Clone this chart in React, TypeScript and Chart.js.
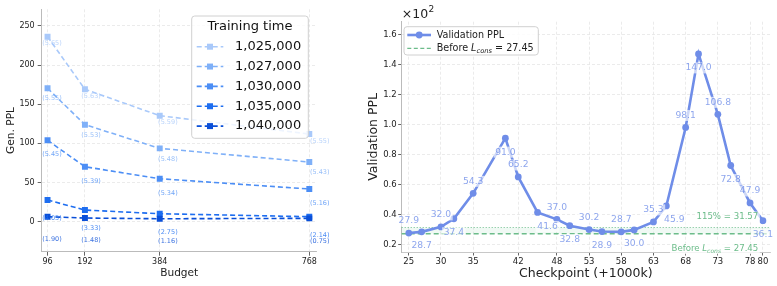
import { useEffect, useRef } from 'react';
import { Chart, registerables } from 'chart.js';

Chart.register(...registerables);

const FONT = "'DejaVu Sans', sans-serif";

// Generation perplexity against budget, one series per training time
const budgets = [96, 192, 384, 768];
const trainingTimes = ['1,025,000', '1,027,000', '1,030,000', '1,035,000', '1,040,000'];
const genPpl1025 = [236.3, 169.1, 135.4, 112.0];
const genPpl1027 = [170.4, 123.9, 93.7, 76.2];
const genPpl1030 = [104.0, 70.2, 54.9, 41.8];
const genPpl1035 = [27.7, 14.9, 10.2, 6.4];
const genPpl1040 = [6.4, 4.7, 3.8, 4.3];
// bracketed values printed under each point
const note1025 = [5.65, 5.63, 5.59, 5.55];
const note1027 = [5.55, 5.53, 5.48, 5.43];
const note1030 = [5.45, 5.39, 5.34, 5.16];
const note1035 = [4.05, 3.33, 2.75, 2.14];
const note1040 = [1.9, 1.48, 1.16, 0.75];
const genPplTicks = [0, 50, 100, 150, 200, 250];

// Validation perplexity over training checkpoints
const checkpoints = [25, 27, 30, 32, 35, 40, 42, 45, 48, 50, 53, 55, 58, 60, 63, 65, 68, 70, 73, 75, 78, 80];
const validationPpl = [
  27.9, 28.7, 32.0, 37.4, 54.3, 91.0, 65.2, 41.6, 37.0, 32.8, 30.2,
  28.9, 28.7, 30.0, 35.3, 45.9, 98.1, 147.0, 106.8, 72.8, 47.9, 36.1,
];
const checkpointTicks = [25, 30, 35, 42, 48, 53, 58, 63, 68, 73, 78, 80];
const validationTicks = [20, 40, 60, 80, 100, 120, 140, 160];
const beforeLcons = 27.45;
const thresholdPercent = 115;
const thresholdPpl = 31.57;

const genSeries = [genPpl1025, genPpl1027, genPpl1030, genPpl1035, genPpl1040];
const genNotes = [note1025, note1027, note1030, note1035, note1040];
const seriesColors = ['#a9c9fa', '#7fb0f8', '#4c8ef5', '#1e6ef0', '#0a4fd8'];
const noteDrop = [7, 10.5, 14.5, 18.5, 22.5];
const noteShift = [-5.4, -3.6, -1.6, 0.7];

const lineBlue = '#6f8de8';
const labelBlue = 'rgba(65,105,225,0.6)';
const green = 'rgb(108,188,138)';
const labelNudge: Record<number, number> = { 7: 10, 15: 8 };

function roundRect(ctx: CanvasRenderingContext2D, x: number, y: number, w: number, h: number, r: number) {
  ctx.beginPath();
  ctx.moveTo(x + r, y);
  ctx.lineTo(x + w - r, y);
  ctx.arcTo(x + w, y, x + w, y + r, r);
  ctx.lineTo(x + w, y + h - r);
  ctx.arcTo(x + w, y + h, x + w - r, y + h, r);
  ctx.lineTo(x + r, y + h);
  ctx.arcTo(x, y + h, x, y + h - r, r);
  ctx.lineTo(x, y + r);
  ctx.arcTo(x, y, x + r, y, r);
  ctx.closePath();
}

type Seg = { text: string; italic?: boolean; sub?: boolean };

function richWidth(ctx: CanvasRenderingContext2D, segs: Seg[], size: number) {
  let total = 0;
  for (const s of segs) {
    ctx.font = `${s.italic ? 'italic ' : ''}${s.sub ? size * 0.7 : size}px ${FONT}`;
    total += ctx.measureText(s.text).width;
  }
  return total;
}

function drawRich(
  ctx: CanvasRenderingContext2D,
  segs: Seg[],
  x: number,
  y: number,
  size: number,
  color: string,
  align: 'left' | 'right',
) {
  const total = richWidth(ctx, segs, size);
  let cx = align === 'right' ? x - total : x;
  ctx.fillStyle = color;
  ctx.textAlign = 'left';
  ctx.textBaseline = 'middle';
  for (const s of segs) {
    ctx.font = `${s.italic ? 'italic ' : ''}${s.sub ? size * 0.7 : size}px ${FONT}`;
    ctx.fillText(s.text, cx, y + (s.sub ? size * 0.3 : 0));
    cx += ctx.measureText(s.text).width;
  }
  return total;
}

const lconsSegs = (value: number): Seg[] => [
  { text: 'Before ' },
  { text: 'L', italic: true },
  { text: 'cons', italic: true, sub: true },
  { text: ` = ${value.toFixed(2)}` },
];

function GenPplChart() {
  const ref = useRef<HTMLCanvasElement>(null);
  useEffect(() => {
    const notesAndLegend = {
      id: 'notesAndLegend',
      afterDatasetsDraw(chart: any) {
        const { ctx } = chart;
        const xs = chart.scales.x;
        const ys = chart.scales.y;
        ctx.save();
        ctx.font = `6.5px ${FONT}`;
        ctx.textAlign = 'left';
        ctx.textBaseline = 'middle';
        genNotes.forEach((notes, i) => {
          ctx.fillStyle = seriesColors[i];
          ctx.globalAlpha = 0.8;
          notes.forEach((n, j) => {
            const px = xs.getPixelForValue(budgets[j]);
            const py = ys.getPixelForValue(genSeries[i][j]);
            ctx.fillText(`(${n.toFixed(2)})`, px + noteShift[j], py + noteDrop[i]);
          });
        });
        ctx.restore();
      },
      afterDraw(chart: any) {
        const { ctx } = chart;
        ctx.save();
        // legend box
        roundRect(ctx, 191.7, 16, 116.6, 122.3, 3);
        ctx.fillStyle = 'rgba(255,255,255,0.8)';
        ctx.fill();
        ctx.strokeStyle = '#d0d0d0';
        ctx.lineWidth = 1;
        ctx.stroke();
        ctx.fillStyle = '#111';
        ctx.font = `13px ${FONT}`;
        ctx.textAlign = 'center';
        ctx.textBaseline = 'middle';
        ctx.fillText('Training time', 250, 26.7);
        trainingTimes.forEach((t, i) => {
          const y = 46.7 + i * 19.85;
          ctx.strokeStyle = seriesColors[i];
          ctx.lineWidth = 1.6;
          ctx.setLineDash([5, 3]);
          ctx.beginPath();
          ctx.moveTo(196.7, y);
          ctx.lineTo(223.3, y);
          ctx.stroke();
          ctx.setLineDash([]);
          ctx.fillStyle = seriesColors[i];
          ctx.fillRect(210 - 3, y - 3, 6, 6);
          ctx.fillStyle = '#111';
          ctx.textAlign = 'left';
          ctx.fillText(t, 235, y);
        });
        ctx.restore();
      },
    };

    const chart = new Chart(ref.current!, {
      type: 'line',
      data: {
        datasets: genSeries.map((vals, i) => ({
          label: trainingTimes[i],
          data: budgets.map((b, j) => ({ x: b, y: vals[j] })),
          borderColor: seriesColors[i],
          backgroundColor: seriesColors[i],
          borderWidth: 1.6,
          borderDash: [5, 3],
          pointStyle: 'rect',
          pointRadius: 4.2,
          pointBorderWidth: 0,
          tension: 0,
          order: 5 - i,
        })),
      },
      options: {
        responsive: false,
        animation: false,
        devicePixelRatio: 1,
        layout: { padding: { left: 0, top: 9.3, right: 23.3, bottom: 0 } },
        plugins: { legend: { display: false }, tooltip: { enabled: false } },
        scales: {
          x: {
            type: 'linear',
            min: 81,
            max: 787,
            afterBuildTicks: (s: any) => {
              s.ticks = budgets.map((v) => ({ value: v }));
            },
            afterFit: (s: any) => {
              s.height = 34.3;
            },
            ticks: {
              font: { size: 8, family: FONT },
              color: '#222',
              padding: 1,
              autoSkip: false,
              maxRotation: 0,
              callback: (v: any) => String(v),
            },
            grid: { color: '#e6e6e6', lineWidth: 0.8, tickColor: '#555', tickLength: 4, tickWidth: 0.9 },
            border: { color: '#bbbbbb', width: 1, dash: [3, 2] },
            title: {
              display: true,
              text: 'Budget',
              font: { size: 10.6, family: FONT },
              color: '#222',
              padding: { top: 0, bottom: 6.3 },
            },
          },
          y: {
            type: 'linear',
            min: -38.3,
            max: 271.3,
            afterBuildTicks: (s: any) => {
              s.ticks = genPplTicks.map((v) => ({ value: v }));
            },
            afterFit: (s: any) => {
              s.width = 41.7;
            },
            ticks: { font: { size: 8, family: FONT }, color: '#222', padding: 3 },
            grid: { color: '#e6e6e6', lineWidth: 0.8, tickColor: '#555', tickLength: 4, tickWidth: 0.9 },
            border: { color: '#bbbbbb', width: 1, dash: [3, 2] },
            title: {
              display: true,
              text: 'Gen. PPL',
              font: { size: 10.6, family: FONT },
              color: '#222',
              padding: { top: 4.9, bottom: 0 },
            },
          },
        },
      },
      plugins: [notesAndLegend],
    } as any);
    return () => chart.destroy();
  }, []);
  return (
    <canvas
      ref={ref}
      width={340}
      height={286}
      style={{ position: 'absolute', left: 0, top: 0, width: 340, height: 286 }}
    />
  );
}

function ValidationChart() {
  const ref = useRef<HTMLCanvasElement>(null);
  useEffect(() => {
    const refLines = {
      id: 'refLines',
      beforeDatasetsDraw(chart: any) {
        const { ctx, chartArea } = chart;
        const ys = chart.scales.y;
        const yBefore = ys.getPixelForValue(beforeLcons);
        const yThr = ys.getPixelForValue(thresholdPpl);
        ctx.save();
        ctx.fillStyle = 'rgba(60,179,113,0.08)';
        ctx.fillRect(chartArea.left, yThr, chartArea.right - chartArea.left, yBefore - yThr);
        ctx.strokeStyle = green;
        ctx.lineWidth = 1.4;
        ctx.setLineDash([5, 3]);
        ctx.beginPath();
        ctx.moveTo(chartArea.left, yBefore);
        ctx.lineTo(chartArea.right, yBefore);
        ctx.stroke();
        ctx.lineWidth = 1;
        ctx.setLineDash([1, 2]);
        ctx.beginPath();
        ctx.moveTo(chartArea.left, yThr);
        ctx.lineTo(chartArea.right, yThr);
        ctx.stroke();
        ctx.restore();
      },
      afterDatasetsDraw(chart: any) {
        const { ctx, chartArea } = chart;
        const xs = chart.scales.x;
        const ys = chart.scales.y;
        ctx.save();
        // value labels, alternating above and below the points
        ctx.font = `9.2px ${FONT}`;
        ctx.textAlign = 'center';
        ctx.textBaseline = 'middle';
        validationPpl.forEach((v, i) => {
          const px = xs.getPixelForValue(checkpoints[i]) + (labelNudge[i] || 0);
          const py = ys.getPixelForValue(v) + (i % 2 === 0 ? -12 : 14);
          const txt = v.toFixed(1);
          const w = ctx.measureText(txt).width;
          ctx.fillStyle = 'rgba(255,255,255,0.65)';
          ctx.fillRect(px - w / 2 - 1.5, py - 5.5, w + 3, 11);
          ctx.fillStyle = labelBlue;
          ctx.fillText(txt, px, py);
        });

        // threshold annotations
        const right = chartArea.right - 11.7;
        const yThr = ys.getPixelForValue(thresholdPpl) - 10.5;
        const yBefore = ys.getPixelForValue(beforeLcons) + 15;
        ctx.font = `8.6px ${FONT}`;
        const thrText = `${thresholdPercent}% = ${thresholdPpl.toFixed(2)}`;
        const tw = ctx.measureText(thrText).width;
        ctx.fillStyle = 'rgba(255,255,255,0.7)';
        ctx.fillRect(right - tw - 1.5, yThr - 5.5, tw + 3, 11);
        ctx.fillStyle = green;
        ctx.textAlign = 'right';
        ctx.fillText(thrText, right, yThr);
        const segs = lconsSegs(beforeLcons);
        const bw = richWidth(ctx, segs, 8.6);
        ctx.fillStyle = 'rgba(255,255,255,0.8)';
        ctx.fillRect(right - bw - 1.5, yBefore - 5.5, bw + 3, 11);
        drawRich(ctx, segs, right, yBefore, 8.6, green, 'right');
        ctx.restore();
      },
      afterDraw(chart: any) {
        const { ctx, chartArea } = chart;
        ctx.save();
        // legend
        roundRect(ctx, 64, 26.7, 134.3, 28.3, 3);
        ctx.fillStyle = 'rgba(255,255,255,0.85)';
        ctx.fill();
        ctx.strokeStyle = '#d0d0d0';
        ctx.lineWidth = 1;
        ctx.stroke();
        const r1 = 35;
        const r2 = 48.3;
        ctx.strokeStyle = lineBlue;
        ctx.lineWidth = 2.6;
        ctx.beginPath();
        ctx.moveTo(67.3, r1);
        ctx.lineTo(91, r1);
        ctx.stroke();
        ctx.fillStyle = lineBlue;
        ctx.beginPath();
        ctx.arc(79.2, r1, 3.4, 0, Math.PI * 2);
        ctx.fill();
        ctx.strokeStyle = green;
        ctx.lineWidth = 1.3;
        ctx.setLineDash([4, 2.5]);
        ctx.beginPath();
        ctx.moveTo(67.3, r2);
        ctx.lineTo(91, r2);
        ctx.stroke();
        ctx.setLineDash([]);
        ctx.fillStyle = '#222';
        ctx.font = `9.6px ${FONT}`;
        ctx.textAlign = 'left';
        ctx.textBaseline = 'middle';
        ctx.fillText('Validation PPL', 96.7, r1);
        drawRich(ctx, lconsSegs(beforeLcons), 96.7, r2, 9.6, '#222', 'left');

        // axis multiplier
        ctx.fillStyle = '#222';
        ctx.font = `12.5px ${FONT}`;
        ctx.textAlign = 'left';
        ctx.textBaseline = 'middle';
        ctx.fillText('\u00d710', chartArea.left, 15);
        const mw = ctx.measureText('\u00d710').width;
        ctx.font = `9px ${FONT}`;
        ctx.fillText('2', chartArea.left + mw + 0.5, 9.5);
        ctx.restore();
      },
    };

    const chart = new Chart(ref.current!, {
      type: 'line',
      data: {
        datasets: [
          {
            label: 'Validation PPL',
            data: checkpoints.map((c, i) => ({ x: c, y: validationPpl[i] })),
            borderColor: lineBlue,
            backgroundColor: lineBlue,
            borderWidth: 2.6,
            pointRadius: 3.4,
            pointBorderWidth: 0,
            tension: 0,
          },
        ],
      },
      options: {
        responsive: false,
        animation: false,
        devicePixelRatio: 1,
        layout: { padding: { left: 0, top: 21.7, right: 7, bottom: 0 } },
        plugins: { legend: { display: false }, tooltip: { enabled: false } },
        scales: {
          x: {
            type: 'linear',
            min: 23.9,
            max: 81.1,
            afterBuildTicks: (s: any) => {
              s.ticks = checkpointTicks.map((v) => ({ value: v }));
            },
            afterFit: (s: any) => {
              s.height = 34;
            },
            ticks: {
              font: { size: 8.5, family: FONT },
              color: '#222',
              padding: 1,
              autoSkip: false,
              maxRotation: 0,
              callback: (v: any) => String(v),
            },
            grid: { color: '#e6e6e6', lineWidth: 0.8, tickColor: '#555', tickLength: 3.5, tickWidth: 0.9 },
            border: { color: '#c8c8c8', width: 1, dash: [3, 2] },
            title: {
              display: true,
              text: 'Checkpoint (+1000k)',
              font: { size: 12.5, family: FONT },
              color: '#222',
              padding: { top: 0, bottom: 5.2 },
            },
          },
          y: {
            type: 'linear',
            min: 15.3,
            max: 168.4,
            afterBuildTicks: (s: any) => {
              s.ticks = validationTicks.map((v) => ({ value: v }));
            },
            afterFit: (s: any) => {
              s.width = 61.7;
            },
            ticks: {
              font: { size: 8.5, family: FONT },
              color: '#222',
              padding: 1.5,
              callback: (v: any) => (Number(v) / 100).toFixed(1),
            },
            grid: { color: '#e6e6e6', lineWidth: 0.8, tickColor: '#555', tickLength: 3.5, tickWidth: 0.9 },
            border: { color: '#bbbbbb', width: 1, dash: [3, 2] },
            title: {
              display: true,
              text: 'Validation PPL',
              font: { size: 12.5, family: FONT },
              color: '#222',
              padding: { top: 26.5, bottom: 0 },
            },
          },
        },
      },
      plugins: [refLines],
    } as any);
    return () => chart.destroy();
  }, []);
  return (
    <canvas
      ref={ref}
      width={437}
      height={286}
      style={{ position: 'absolute', left: 340, top: 0, width: 437, height: 286 }}
    />
  );
}

export default function App() {
  return (
    <div
      style={{
        position: 'fixed',
        left: 0,
        top: 0,
        width: 777,
        height: 286,
        background: '#ffffff',
        overflow: 'hidden',
      }}
    >
      <GenPplChart />
      <ValidationChart />
    </div>
  );
}
